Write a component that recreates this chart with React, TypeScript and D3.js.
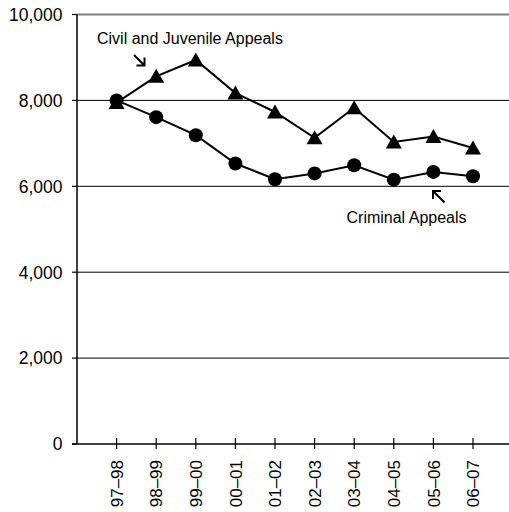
import React from "react";
import * as d3 from "d3";

const categories = ["97–98", "98–99", "99–00", "00–01", "01–02", "02–03", "03–04", "04–05", "05–06", "06–07"];
const civilJuvenile = [7950, 8560, 8940, 8170, 7730, 7130, 7830, 7030, 7160, 6890];
const criminal = [8000, 7610, 7190, 6530, 6165, 6300, 6490, 6155, 6335, 6235];
const yTicks = [0, 2000, 4000, 6000, 8000, 10000];

const W = 509;
const H = 512;

export default function App() {
  const x = d3.scaleLinear().domain([-1, 10]).range([77, 512.6]);
  const y = d3.scaleLinear().domain([0, 10000]).range([444, 14.5]);
  const fmt = d3.format(",");
  const line = d3
    .line<number>()
    .x((_, i) => x(i))
    .y((d) => y(d));
  const tri = (cx: number, cy: number) =>
    `M${cx},${cy - 7.5}L${cx + 8},${cy + 6.5}L${cx - 8},${cy + 6.5}Z`;
  const font = "'Liberation Sans', Arial, sans-serif";

  return (
    <svg
      width={W}
      height={H}
      style={{ position: "absolute", left: 0, top: 0, background: "#fff" }}
      fontFamily={font}
    >
      {yTicks
        .filter((t) => t > 0)
        .map((t) => (
          <line
            key={t}
            x1={77}
            x2={W}
            y1={y(t)}
            y2={y(t)}
            stroke={t === 10000 ? "#808080" : "#000"}
            strokeWidth={t === 10000 ? 2 : 1}
          />
        ))}
      <line x1={77} x2={77} y1={y(10000)} y2={444} stroke="#000" strokeWidth={1.5} />
      {yTicks.map((t) => (
        <g key={"yt" + t}>
          <line x1={72} x2={77} y1={y(t)} y2={y(t)} stroke="#000" strokeWidth={1.2} />
          <text x={62.5} y={y(t)} dy="0.36em" textAnchor="end" fontSize={17.5} fill="#000">
            {fmt(t)}
          </text>
        </g>
      ))}
      <line x1={72} x2={W} y1={444} y2={444} stroke="#000" strokeWidth={1.5} />
      {categories.map((c, i) => (
        <g key={c}>
          <line x1={x(i)} x2={x(i)} y1={438} y2={449} stroke="#000" strokeWidth={1.2} />
          <text
            transform={`translate(${x(i)},460) rotate(-90)`}
            textAnchor="end"
            dy="0.36em"
            fontSize={17}
            fill="#000"
          >
            {c}
          </text>
        </g>
      ))}
      <path d={line(civilJuvenile) || ""} fill="none" stroke="#000" strokeWidth={2} />
      <path d={line(criminal) || ""} fill="none" stroke="#000" strokeWidth={2} />
      {civilJuvenile.map((v, i) => (
        <path key={"t" + i} d={tri(x(i), y(v))} fill="#000" />
      ))}
      {criminal.map((v, i) => (
        <circle key={"c" + i} cx={x(i)} cy={y(v)} r={7} fill="#000" />
      ))}
      <text x={97} y={44} fontSize={16} fill="#000">
        Civil and Juvenile Appeals
      </text>
      <path d="M134,55L144.5,65.5M144.5,57.5V65.5H136.5" fill="none" stroke="#000" strokeWidth={2} />
      <text x={346.5} y={223} fontSize={16} fill="#000">
        Criminal Appeals
      </text>
      <path d="M444.5,202.5L433,191M433,199V191H441" fill="none" stroke="#000" strokeWidth={2} />
    </svg>
  );
}
